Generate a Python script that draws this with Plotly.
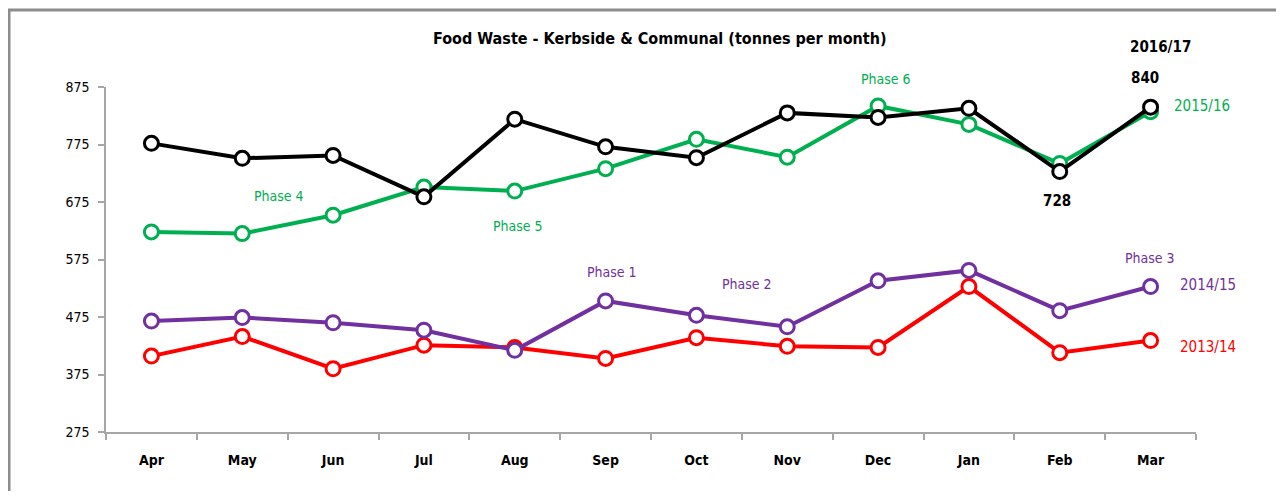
import plotly.graph_objects as go

months = ["Apr", "May", "Jun", "Jul", "Aug", "Sep", "Oct", "Nov", "Dec", "Jan", "Feb", "Mar"]
y2013_14 = [407, 441, 385, 426, 422, 403, 439, 424, 422, 528, 413, 434]
y2014_15 = [468, 474, 465, 452, 417, 503, 478, 458, 538, 556, 486, 528]
y2015_16 = [623, 620, 652, 701, 694, 733, 784, 753, 842, 810, 742, 832]
y2016_17 = [777, 751, 756, 684, 819, 771, 752, 830, 822, 838, 728, 840]
y_ticks = [275, 375, 475, 575, 675, 775, 875]

FONT = "Liberation Sans Narrow, DejaVu Sans Condensed, Open Sans, sans-serif"
OFF = 8  # page body margin
W, H = 1284 - 2 * OFF, 499 - 2 * OFF
# plot area in page pixels
PL, PR, PT, PB = 106, 1196, 87, 432
L, R, T, B = PL - OFF, PR - OFF, PT - OFF, PB - OFF

def px(x):
    return (x - PL) / (PR - PL)

def py(y):
    return (PB - y) / (PB - PT)

series = [
    ("2013/14", y2013_14, "#FF0000"),
    ("2014/15", y2014_15, "#7030A0"),
    ("2015/16", y2015_16, "#00B050"),
    ("2016/17", y2016_17, "#000000"),
]

fig = go.Figure()
for name, vals, col in series:
    fig.add_trace(go.Scatter(
        x=months, y=vals, name=name, mode="lines+markers",
        line=dict(color=col, width=4),
        marker=dict(symbol="circle", size=14, color="white",
                    line=dict(color=col, width=3)),
        showlegend=False, cliponaxis=False,
    ))

ann = []
def text(x, y, s, color="#000000", size=14, bold=False):
    ann.append(dict(xref="paper", yref="paper", x=px(x), y=py(y), text=(f"<b>{s}</b>" if bold else s),
                    showarrow=False, font=dict(family=FONT, size=size, color=color),
                    xanchor="center", yanchor="middle"))

text(660, 38, "Food Waste - Kerbside & Communal (tonnes per month)", size=16, bold=True)
text(1160, 47, "2016/17", size=15, bold=True)
text(1145, 78, f"{y2016_17[11]}", size=15, bold=True)
text(1057, 201, f"{y2016_17[10]}", size=15, bold=True)
text(1202, 106, "2015/16", color="#00B050", size=15)
text(1208, 285, "2014/15", color="#7030A0", size=15)
text(1208, 347, "2013/14", color="#FF0000", size=15)
text(279, 196, "Phase 4", color="#00B050", size=14)
text(518, 226, "Phase 5", color="#00B050", size=14)
text(886, 79, "Phase 6", color="#00B050", size=14)
text(612, 272, "Phase 1", color="#7030A0", size=14)
text(747, 284, "Phase 2", color="#7030A0", size=14)
text(1150, 258, "Phase 3", color="#7030A0", size=14)

shapes = [dict(type="rect", xref="paper", yref="paper",
               x0=px(9), x1=px(1280), y0=py(10), y1=py(520),
               line=dict(color="#8c8c8c", width=3), fillcolor="rgba(0,0,0,0)", layer="below")]

fig.update_layout(
    width=W, height=H,
    margin=dict(l=L, r=W - R, t=T, b=H - B),
    paper_bgcolor="white", plot_bgcolor="white",
    font=dict(family=FONT, size=14, color="#000000"),
    annotations=ann, shapes=shapes,
    xaxis=dict(type="category", range=[-0.5, 11.5], showgrid=False, zeroline=False,
               showline=True, linecolor="#a6a6a6", linewidth=1.5,
               ticks="outside", ticklen=6, tickcolor="#a6a6a6", tickwidth=1.5,
               tickson="boundaries", ticklabelstandoff=14,
               tickfont=dict(family=FONT, size=14, color="#000000", weight="bold")),
    yaxis=dict(range=[275, 875], tickvals=y_ticks, showgrid=False, zeroline=False,
               showline=True, linecolor="#a6a6a6", linewidth=1.5,
               ticks="outside", ticklen=6, tickcolor="#a6a6a6", tickwidth=1.5,
               ticklabelstandoff=6,
               tickfont=dict(family=FONT, size=14, color="#000000")),
)

fig.write_html("out.html")
